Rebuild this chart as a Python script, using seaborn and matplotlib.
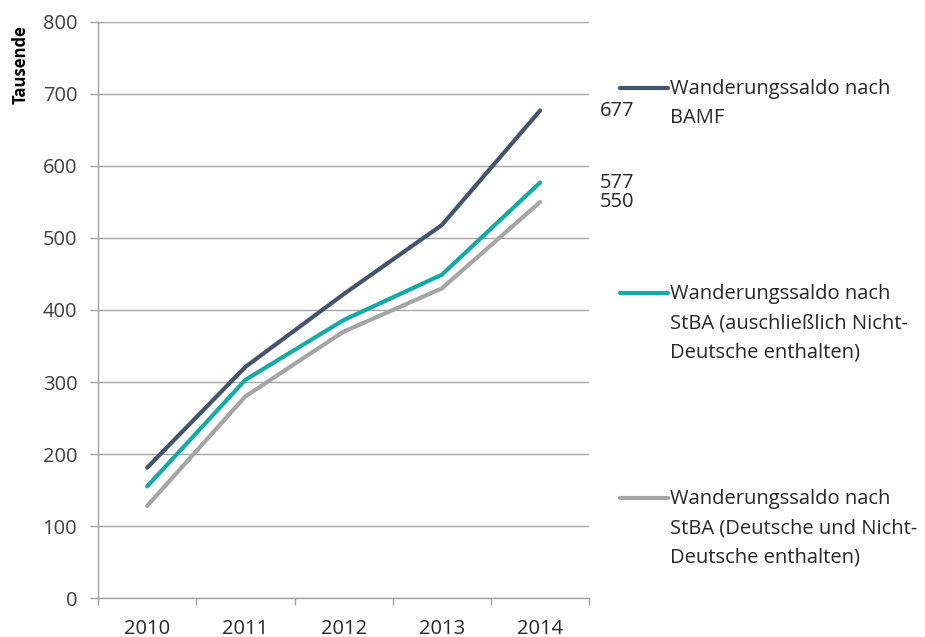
import matplotlib
matplotlib.use("Agg")
import matplotlib.pyplot as plt
import seaborn as sns
import pandas as pd
from matplotlib.lines import Line2D

years = ["2010", "2011", "2012", "2013", "2014"]
bamf = [181, 321, 422, 518, 677]
stba_nd = [155, 303, 386, 449, 577]
stba_all = [128, 280, 370, 430, 550]
series_names = [
    "Wanderungssaldo nach\nBAMF",
    "Wanderungssaldo nach\nStBA (auschließlich Nicht-\nDeutsche enthalten)",
    "Wanderungssaldo nach\nStBA (Deutsche und Nicht-\nDeutsche enthalten)",
]
end_labels = ["677", "577", "550"]
colors = ["#44546A", "#13ABA6", "#A5A5A5"]
yticks = [0, 100, 200, 300, 400, 500, 600, 700, 800]

sns.set_theme(style="white")
plt.rcParams["font.family"] = ["Open Sans", "DejaVu Sans"]

FS = 14.5

rows = []
for name, vals in zip(series_names, [bamf, stba_nd, stba_all]):
    for i, (y, v) in enumerate(zip(years, vals)):
        rows.append({"x": i, "year": y, "value": v, "series": name})
df = pd.DataFrame(rows)

fig = plt.figure(figsize=(9.25, 6.37), dpi=100)
ax = fig.add_axes([0.106, 0.0612, 0.531, 0.9043])

sns.lineplot(data=df, x="x", y="value", hue="series", palette=colors,
             hue_order=series_names, linewidth=3, ax=ax, legend=False,
             estimator=None, sort=False)
for line in ax.lines:
    line.set_solid_capstyle("round")

ax.set_xlim(-0.5, 4.5)
ax.set_ylim(0, 800)
ax.set_yticks(yticks)
ax.set_yticklabels([str(t) for t in yticks], fontsize=FS, color="#404040")
ax.set_xticks([i - 0.5 for i in range(6)])
ax.set_xticklabels([])
ax.set_xticks(range(5), minor=True)
ax.set_xticklabels(years, minor=True, fontsize=FS, color="#262626")
ax.tick_params(axis="x", which="minor", bottom=True, length=0, pad=15)
ax.tick_params(axis="x", which="major", bottom=True, length=5, color="#A0A0A0", width=1, direction="out")
ax.tick_params(axis="y", left=True, length=6, color="#A0A0A0", width=1, direction="out", pad=9)
ax.set_xlabel("")
ax.set_ylabel("Tausende", fontsize=12, fontweight="bold", color="#000000", loc="top")
ax.yaxis.set_label_coords(-0.14, 0.995)
ax.yaxis.grid(True, color="#A6A6A6", linewidth=1)
ax.set_axisbelow(True)
for s in ["top", "right"]:
    ax.spines[s].set_visible(False)
for s in ["left", "bottom"]:
    ax.spines[s].set_color("#A0A0A0")
    ax.spines[s].set_linewidth(1)

for vals, lab in zip([bamf, stba_nd, stba_all], end_labels):
    ax.annotate(lab, xy=(4, vals[-1]), xytext=(43, 0), textcoords="offset points",
                fontsize=FS, color="#262626", va="center", ha="left",
                annotation_clip=False)

# legend, manually placed
leg_y = [88, 293, 498]
W, H = 925, 637
for name, c, yy in zip(series_names, colors, leg_y):
    fy = 1 - yy / H
    fig.add_artist(Line2D([620 / W, 668 / W], [fy, fy], color=c, linewidth=3,
                          solid_capstyle="round", transform=fig.transFigure))
    fig.text(670 / W, fy + 9 / H, name, fontsize=FS, color="#262626",
             va="top", ha="left", linespacing=1.62)

fig.savefig("out.png", dpi=100)
